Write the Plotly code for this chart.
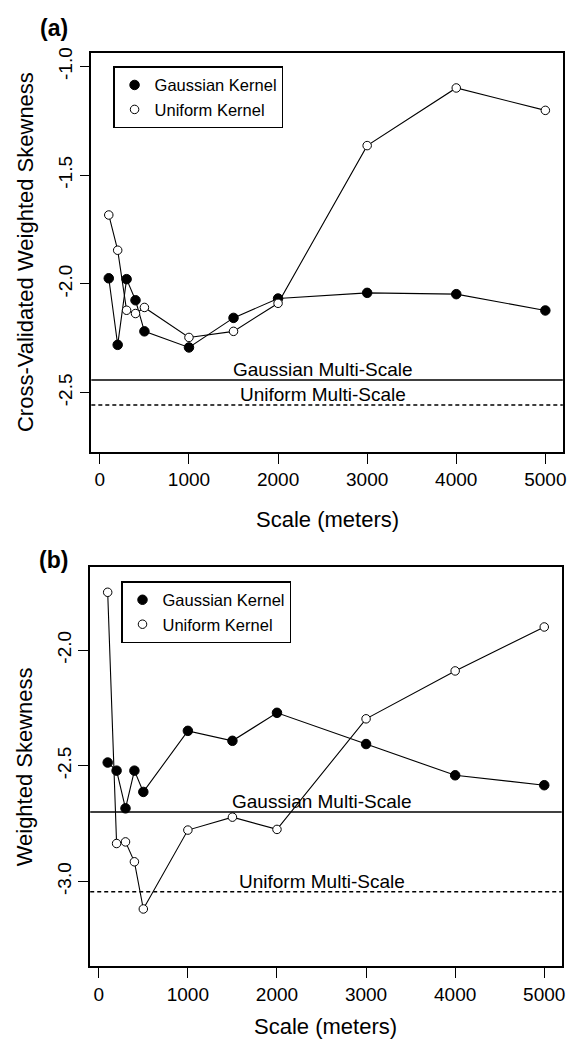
import plotly.graph_objects as go

# ---------------- data ----------------
scales = [100, 200, 300, 400, 500, 1000, 1500, 2000, 3000, 4000, 5000]

a_gaussian = [-1.974, -2.280, -1.978, -2.075, -2.218, -2.292, -2.156, -2.067, -2.041, -2.047, -2.122]
a_uniform = [-1.683, -1.845, -2.121, -2.136, -2.108, -2.246, -2.218, -2.089, -1.364, -1.099, -1.202]
a_gauss_multi = -2.442
a_unif_multi = -2.557

b_gaussian = [-2.486, -2.521, -2.684, -2.521, -2.613, -2.349, -2.392, -2.271, -2.406, -2.541, -2.584]
b_uniform = [-1.750, -2.836, -2.829, -2.915, -3.119, -2.778, -2.722, -2.775, -2.297, -2.090, -1.900]
b_gauss_multi = -2.700
b_unif_multi = -3.044

multi_label_x = 2500
x_ticks = [0, 1000, 2000, 3000, 4000, 5000]
a_y_ticks = [-2.5, -2.0, -1.5, -1.0]
b_y_ticks = [-3.0, -2.5, -2.0]

series_names = ["Gaussian Kernel", "Uniform Kernel"]
multi_names = ["Gaussian Multi-Scale", "Uniform Multi-Scale"]
panel_titles = ["(a)", "(b)"]
y_titles = ["Cross-Validated Weighted Skewness", "Weighted Skewness"]
x_title = "Scale (meters)"

# ---------------- layout helpers ----------------
# the page body has an 8px margin, so the figure is drawn 8px in from the
# top-left corner; size it so it fills the rest of the 583x1039 window
OFF = 8
W, H = 583 - OFF, 1039 - OFF
FONT = "Liberation Sans, Arial, sans-serif"


def px_x(p):
    return (p - OFF) / W


def px_y(p):
    return 1 - (p - OFF) / H


fig = go.Figure()

panels = [
    dict(xa="x", ya="y", leg="legend", g=a_gaussian, u=a_uniform,
         gm=a_gauss_multi, um=a_unif_multi, yt=a_y_ticks,
         yrange=[-2.772, -0.936], top=47.7, bottom=449.0,
         left=91.9, right=566.7, title_y=23, xtitle_y=516.7,
         leg_x=114, leg_y=61.7),
    dict(xa="x2", ya="y2", leg="legend2", g=b_gaussian, u=b_uniform,
         gm=b_gauss_multi, um=b_unif_multi, yt=b_y_ticks,
         yrange=[-3.367, -1.639], top=564.3, bottom=966.0,
         left=90.8, right=565.6, title_y=558, xtitle_y=1026.7,
         leg_x=122, leg_y=579),
]

filled = dict(symbol="circle", size=9.5, color="black", line=dict(color="black", width=1))
opened = dict(symbol="circle", size=8.5, color="white", line=dict(color="black", width=1))

legend_common = dict(xanchor="left", yanchor="top", bgcolor="white",
                     bordercolor="black", borderwidth=1.3,
                     font=dict(family=FONT, size=16.5, color="black"),
                     traceorder="normal", tracegroupgap=0, itemwidth=30)

for i, p in enumerate(panels):
    for vals, mk, name in [(p["g"], filled, series_names[0]), (p["u"], opened, series_names[1])]:
        fig.add_trace(go.Scatter(
            x=scales, y=vals, mode="lines+markers", xaxis=p["xa"], yaxis=p["ya"],
            line=dict(color="black", width=1.1), marker=mk, showlegend=False,
            hoverinfo="x+y", name=name))
    # legend-only entries (marker without line, like the original)
    for mk, name in [(filled, series_names[0]), (opened, series_names[1])]:
        fig.add_trace(go.Scatter(
            x=[None], y=[None], mode="markers", xaxis=p["xa"], yaxis=p["ya"],
            marker=mk, name=name, legend=p["leg"], showlegend=True))

    axis_common = dict(showline=True, linecolor="black", linewidth=1.6, mirror=True,
                       ticks="outside", ticklen=10, tickwidth=1.4, tickcolor="black",
                       showgrid=False, zeroline=False)
    xkey = "xaxis" if i == 0 else "xaxis2"
    ykey = "yaxis" if i == 0 else "yaxis2"
    fig.update_layout(**{
        xkey: dict(axis_common, domain=[px_x(p["left"]), px_x(p["right"])],
                   range=[-96, 5196], anchor=p["ya"],
                   tickvals=x_ticks, ticktext=[str(v) for v in x_ticks],
                   tickfont=dict(family=FONT, size=19, color="black")),
        ykey: dict(axis_common, domain=[px_y(p["bottom"]), px_y(p["top"])],
                   range=p["yrange"], anchor=p["xa"],
                   tickvals=p["yt"], ticktext=[f"{v:.1f}" for v in p["yt"]],
                   tickangle=-90,
                   tickfont=dict(family=FONT, size=19, color="black")),
        p["leg"]: dict(legend_common, x=px_x(p["leg_x"]), y=px_y(p["leg_y"])),
    })

    # multi-scale reference lines
    for yv, dash in [(p["gm"], "solid"), (p["um"], "4px,3px")]:
        fig.add_shape(type="line", xref=f"{p['xa']} domain", yref=p["ya"],
                      x0=0, x1=1, y0=yv, y1=yv,
                      line=dict(color="black", width=1.5, dash=dash))
    for yv, name in [(p["gm"], multi_names[0]), (p["um"], multi_names[1])]:
        fig.add_annotation(x=multi_label_x, y=yv, xref=p["xa"], yref=p["ya"],
                           text=name, showarrow=False, yanchor="bottom",
                           xanchor="center", yshift=-2,
                           font=dict(family=FONT, size=19, color="black"))

    # panel title
    fig.add_annotation(x=px_x(54), y=px_y(p["title_y"]), xref="paper", yref="paper",
                       text=f"<b>{panel_titles[i]}</b>", showarrow=False,
                       xanchor="center", yanchor="middle",
                       font=dict(family=FONT, size=23, color="black"))
    # axis titles
    fig.add_annotation(x=px_x(25), y=px_y((p["top"] + p["bottom"]) / 2),
                       xref="paper", yref="paper", text=y_titles[i], textangle=-90,
                       showarrow=False, xanchor="center", yanchor="middle",
                       font=dict(family=FONT, size=22, color="black"))
    fig.add_annotation(x=px_x((p["left"] + p["right"]) / 2), y=px_y(p["xtitle_y"]),
                       xref="paper", yref="paper", text=x_title,
                       showarrow=False, xanchor="center", yanchor="middle",
                       font=dict(family=FONT, size=22, color="black"))

fig.update_layout(
    width=W, height=H,
    margin=dict(l=0, r=0, t=0, b=0, pad=0),
    paper_bgcolor="white", plot_bgcolor="white",
    font=dict(family=FONT, color="black"),
    hovermode="closest",
)

fig.write_html("out.html")
